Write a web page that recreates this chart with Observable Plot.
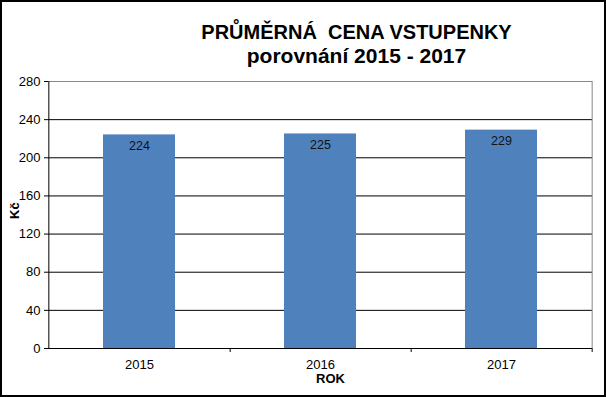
<!DOCTYPE html>
<html>
<head>
<meta charset="utf-8">
<script src="https://cdn.jsdelivr.net/npm/d3@7"></script>
<script src="https://cdn.jsdelivr.net/npm/@observablehq/plot@0.6"></script>
<style>
  html, body { margin: 0; padding: 0; background: #fff; }
  #wrap { position: relative; width: 606px; height: 397px; }
  #wrap svg { display: block; }
  #frame { position: absolute; left: 0; top: 0; width: 606px; height: 397px; box-sizing: border-box; border: 2px solid #000; pointer-events: none; }
</style>
</head>
<body>
<div id="wrap"><div id="frame"></div></div>
<script>
const years = ["2015", "2016", "2017"];
const prices = [224, 225, 229];
const yTicks = [0, 40, 80, 120, 160, 200, 240, 280];
const titleLines = ["PRŮMĚRNÁ  CENA VSTUPENKY", "porovnání 2015 - 2017"];
const yTitle = "Kč";
const xTitle = "ROK";

const data = years.map((y, i) => ({year: y, price: prices[i]}));
const W = 606, H = 397, mL = 48, mR = 14, mT = 81, mB = 49;
const step = (W - mL - mR) / years.length;

const chart = Plot.plot({
  width: W,
  height: H,
  marginLeft: mL,
  marginRight: mR,
  marginTop: mT,
  marginBottom: mB,
  style: {fontFamily: "'Liberation Sans', Arial, sans-serif", fontSize: "13px", color: "#000", background: "transparent"},
  x: {domain: years, paddingInner: 0.6, paddingOuter: 0.3, label: null},
  y: {type: "linear", domain: [0, 280], ticks: yTicks, label: null},
  marks: [
    Plot.ruleY(yTicks.filter(d => d > 0 && d < 280), {stroke: "#000", strokeWidth: 1}),
    Plot.ruleY([280], {stroke: "#888", strokeWidth: 1}),
    Plot.ruleX([years[years.length - 1]], {x: d => d, dx: step / 2, y1: 0, y2: 280, stroke: "#888", strokeWidth: 1}),
    Plot.barY(data, {x: "year", y: "price", fill: "#4F81BD"}),
    Plot.text(data, {x: "year", y: "price", text: d => String(d.price), dy: 11, fill: "#111", fontSize: 12.5}),
    Plot.ruleY([0], {stroke: "#000", strokeWidth: 1}),
    Plot.ruleX([years[0]], {x: d => d, dx: -step / 2, y1: 0, y2: 280, stroke: "#000", strokeWidth: 1}),
    Plot.ruleX(years, {x: d => d, dx: step / 2, y1: () => 0, y2: () => 0, insetBottom: -4, stroke: "#000", strokeWidth: 1}),
    Plot.axisY({ticks: yTicks, tickSize: 4, tickPadding: 4, fontSize: 13, label: null}),
    Plot.axisX({tickSize: 0, tickPadding: 11, fontSize: 13, label: null}),
    Plot.text([yTitle], {frameAnchor: "left", dx: -34, dy: 4, rotate: -90, fontWeight: "bold", fontSize: 13, fill: "#000"}),
    Plot.text([xTitle], {frameAnchor: "bottom", dx: 10, dy: 34, fontWeight: "bold", fontSize: 13, fill: "#000"}),
    Plot.text([titleLines[0]], {frameAnchor: "top", dx: 36, dy: -57, fontWeight: "bold", fontSize: 20, fill: "#000"}),
    Plot.text([titleLines[1]], {frameAnchor: "top", dx: 36, dy: -33, fontWeight: "bold", fontSize: 21, fill: "#000"})
  ]
});
document.getElementById("wrap").insertBefore(chart, document.getElementById("frame"));
</script>
</body>
</html>
